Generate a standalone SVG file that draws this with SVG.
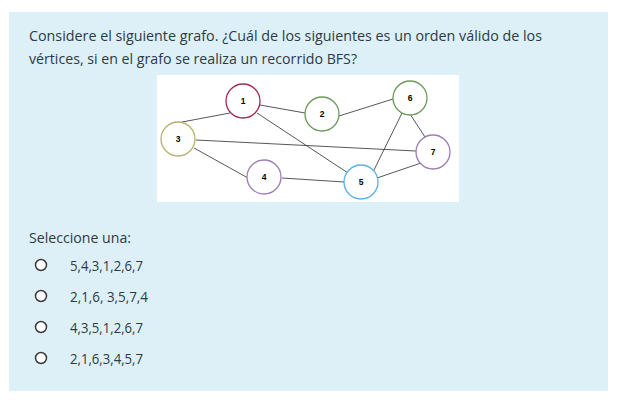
<svg xmlns="http://www.w3.org/2000/svg" width="617" height="408" viewBox="0 0 617 408">
<style>
.t{font-family:"Open Sans","Noto Sans","Liberation Sans",sans-serif;font-size:14.5px;fill:#2c3a45}
.n circle{fill:#fff;stroke-width:1.3}
.n text{font-family:"Liberation Sans",Arial,sans-serif;font-size:8.5px;font-weight:bold;fill:#000;text-anchor:middle}
.e line{stroke:#444;stroke-width:0.9}
.r{fill:#fff;stroke:#3a3a3a;stroke-width:1.5}
</style>
<rect width="617" height="408" fill="#fff"/>
<rect x="9" y="12" width="599" height="379" fill="#def0f7"/>
<text class="t" x="29" y="41" textLength="513" lengthAdjust="spacingAndGlyphs">Considere el siguiente grafo. ¿Cuál de los siguientes es un orden válido de los</text>
<text class="t" x="29" y="64" textLength="328" lengthAdjust="spacingAndGlyphs">vértices, si en el grafo se realiza un recorrido BFS?</text>
<rect x="157" y="75" width="302" height="127" fill="#fff"/>
<g id="connectors" class="e">
<line x1="182" y1="122" x2="230" y2="113"/>
<line x1="260" y1="105" x2="305" y2="113"/>
<line x1="257" y1="113" x2="348" y2="173"/>
<line x1="196" y1="140" x2="416" y2="151"/>
<line x1="194" y1="148" x2="248" y2="178"/>
<line x1="282" y1="178" x2="344" y2="182"/>
<line x1="339" y1="116" x2="393" y2="99"/>
<line x1="402" y1="113" x2="373" y2="172"/>
<line x1="410" y1="114" x2="425" y2="137"/>
<line x1="377" y1="178" x2="421" y2="163"/>
</g>
<g id="node1" class="n"><circle cx="243" cy="101" r="17" stroke="#a3294e"/><text x="243" y="104">1</text></g>
<g id="node2" class="n"><circle cx="322" cy="114" r="17" stroke="#6e9a5c"/><text x="322" y="117">2</text></g>
<g id="node3" class="n"><circle cx="178" cy="139" r="17" stroke="#b7b26c"/><text x="178" y="142">3</text></g>
<g id="node4" class="n"><circle cx="264" cy="177" r="17" stroke="#9c7db6"/><text x="264" y="180">4</text></g>
<g id="node5" class="n"><circle cx="361" cy="182" r="17" stroke="#5cb0e8"/><text x="361" y="185">5</text></g>
<g id="node6" class="n"><circle cx="410" cy="98" r="17" stroke="#6e9a5c"/><text x="410" y="101">6</text></g>
<g id="node7" class="n"><circle cx="433" cy="152" r="17" stroke="#9c7db6"/><text x="433" y="155">7</text></g>
<text class="t" x="29" y="243" textLength="102" lengthAdjust="spacingAndGlyphs">Seleccione una:</text>
<circle class="r" cx="41" cy="265" r="5.5"/>
<text class="t" x="70" y="271" textLength="73" lengthAdjust="spacingAndGlyphs">5,4,3,1,2,6,7</text>
<circle class="r" cx="41" cy="296" r="5.5"/>
<text class="t" x="70" y="302" textLength="78" lengthAdjust="spacingAndGlyphs">2,1,6, 3,5,7,4</text>
<circle class="r" cx="41" cy="327" r="5.5"/>
<text class="t" x="70" y="333" textLength="73" lengthAdjust="spacingAndGlyphs">4,3,5,1,2,6,7</text>
<circle class="r" cx="41" cy="358" r="5.5"/>
<text class="t" x="70" y="364" textLength="73" lengthAdjust="spacingAndGlyphs">2,1,6,3,4,5,7</text>
</svg>
